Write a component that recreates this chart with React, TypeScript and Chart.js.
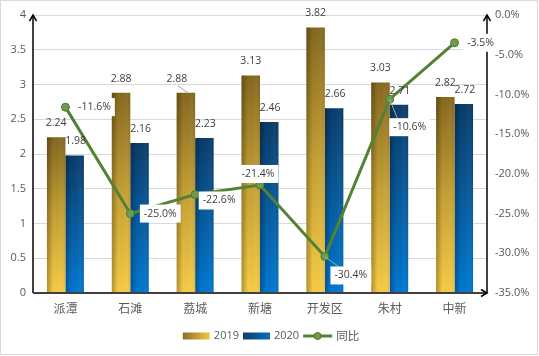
import React, { useEffect, useRef } from 'react';
import { Chart, registerables } from 'chart.js';

Chart.register(...registerables);

// ---- data ----
const categories = ['派潭', '石滩', '荔城', '新塘', '开发区', '朱村', '中新'];
const values2019 = [2.24, 2.88, 2.88, 3.13, 3.82, 3.03, 2.82];
const values2020 = [1.98, 2.16, 2.23, 2.46, 2.66, 2.71, 2.72];
const yoyPct = [-11.6, -25.0, -22.6, -21.4, -30.4, -10.6, -3.5];
const seriesNames = ['2019', '2020', '同比'];

// ---- label placement (styling) ----
const lineLabelOffsets: [number, number, boolean][] = [
  [29, 0, false],
  [30, 0, false],
  [24, 6, false],
  [-2, -11, false],
  [26, 19, true],
  [20, 28, true],
  [26, 0, false],
];
const bar2019LabelNudge: Record<number, number> = { 2: -9 };

const FONT = "'Open Sans', 'Noto Sans CJK SC', sans-serif";
const CJK = "'Noto Sans CJK SC', sans-serif";
const TICK = '#595959';
const LABEL = '#404040';
const GREEN = '#548235';

function barGradient(ctx: any, top: string, mid: string, bottom: string) {
  const chart = ctx.chart;
  if (!chart.chartArea || ctx.type !== 'data') return mid;
  const ys = chart.scales.y;
  const t = ys.getPixelForValue(ctx.raw);
  const b = ys.getPixelForValue(0);
  const g = chart.ctx.createLinearGradient(0, t, 0, b);
  g.addColorStop(0, top);
  g.addColorStop(0.5, mid);
  g.addColorStop(1, bottom);
  return g;
}

function arrowUp(c: CanvasRenderingContext2D, x: number, y: number) {
  c.beginPath();
  c.moveTo(x - 3.5, y + 6);
  c.lineTo(x, y);
  c.lineTo(x + 3.5, y + 6);
  c.stroke();
}

const decorPlugin = {
  id: 'decor',
  afterDatasetDraw(chart: any, args: any) {
    const meta = args.meta;
    if (meta.type !== 'bar') return;
    const c: CanvasRenderingContext2D = chart.ctx;
    c.save();
    meta.data.forEach((bar: any) => {
      const { x, y, base, width } = bar.getProps(['x', 'y', 'base', 'width'], true);
      const l = x - width / 2;
      const g = c.createLinearGradient(l, 0, l + width, 0);
      g.addColorStop(0, 'rgba(0,0,0,0.28)');
      g.addColorStop(0.35, 'rgba(0,0,0,0)');
      g.addColorStop(0.8, 'rgba(255,255,255,0.04)');
      g.addColorStop(1, 'rgba(0,0,0,0.06)');
      c.fillStyle = g;
      c.fillRect(l, y, width, base - y);
    });
    c.restore();
  },
  afterDraw(chart: any) {
    const c: CanvasRenderingContext2D = chart.ctx;
    const { left, right, top, bottom } = chart.chartArea;
    c.save();
    // outer border
    c.strokeStyle = '#D9D9D9';
    c.lineWidth = 1;
    c.strokeRect(0.5, 0.5, chart.width - 2, chart.height - 2);

    // axes
    c.strokeStyle = '#000000';
    c.lineWidth = 1.5;
    c.beginPath();
    c.moveTo(left, bottom);
    c.lineTo(left, top);
    c.stroke();
    arrowUp(c, left, top);
    c.beginPath();
    c.moveTo(right, bottom);
    c.lineTo(right, top);
    c.stroke();
    arrowUp(c, right, top);
    c.strokeStyle = '#404040';
    c.lineWidth = 2;
    c.beginPath();
    c.moveTo(left, bottom);
    c.lineTo(right, bottom);
    c.stroke();
    c.lineWidth = 1.5;
    c.strokeStyle = '#000';
    c.beginPath();
    c.moveTo(right - 6, bottom - 3.5);
    c.lineTo(right, bottom);
    c.lineTo(right - 6, bottom + 3.5);
    c.stroke();

    // bar labels
    c.font = `10.5px ${FONT}`;
    c.fillStyle = LABEL;
    c.textAlign = 'center';
    c.textBaseline = 'middle';
    const m2019 = chart.getDatasetMeta(1);
    const m2020 = chart.getDatasetMeta(2);
    m2019.data.forEach((bar: any, i: number) => {
      const nudge = bar2019LabelNudge[i] || 0;
      const lx = bar.x + nudge;
      const ly = bar.y - 14;
      if (nudge) {
        c.strokeStyle = '#A6A6A6';
        c.lineWidth = 1;
        c.beginPath();
        c.moveTo(lx + 1, ly + 7);
        c.lineTo(bar.x + 2, bar.y);
        c.stroke();
      }
      c.fillStyle = LABEL;
      c.fillText(values2019[i].toFixed(2), lx, ly);
    });
    m2020.data.forEach((bar: any, i: number) => {
      c.fillText(values2020[i].toFixed(2), bar.x + 1, bar.y - 14);
    });

    // line labels
    const mLine = chart.getDatasetMeta(0);
    mLine.data.forEach((pt: any, i: number) => {
      const [dx, dy, leader] = lineLabelOffsets[i];
      const txt = yoyPct[i].toFixed(1) + '%';
      const w = c.measureText(txt).width;
      const cx = pt.x + dx;
      const cy = pt.y + dy;
      if (leader) {
        c.strokeStyle = '#A6A6A6';
        c.lineWidth = 1;
        c.beginPath();
        c.moveTo(pt.x, pt.y);
        c.lineTo(cx - w / 2 + 4, cy - 9);
        c.stroke();
      }
      c.fillStyle = '#FFFFFF';
      c.fillRect(cx - w / 2 - 4, cy - 9, w + 8, 18);
      c.fillStyle = LABEL;
      c.fillText(txt, cx, cy);
    });

    // legend
    c.font = `11px ${FONT}`;
    c.textAlign = 'left';
    const boxW = 27;
    const ly = 336;
    const widths = seriesNames.map((n) => c.measureText(n).width);
    const gapBoxText = 4;
    const gapItems = 4;
    const total = widths.reduce((a, w) => a + boxW + gapBoxText + w, 0) + gapItems * 2;
    let x = (chart.width - total) / 2;
    seriesNames.forEach((name, i) => {
      if (i < 2) {
        const g = c.createLinearGradient(x, 0, x + boxW, 0);
        if (i === 0) {
          g.addColorStop(0, '#8C6E24');
          g.addColorStop(1, '#F4C944');
        } else {
          g.addColorStop(0, '#0B3E6C');
          g.addColorStop(1, '#0A6FC0');
        }
        c.fillStyle = g;
        c.fillRect(x, ly - 3.5, boxW, 7);
      } else {
        c.strokeStyle = GREEN;
        c.lineWidth = 3;
        c.beginPath();
        c.moveTo(x, ly);
        c.lineTo(x + boxW + 2, ly);
        c.stroke();
        c.fillStyle = '#6E9A4E';
        c.strokeStyle = '#4E7A30';
        c.lineWidth = 1;
        c.beginPath();
        c.arc(x + boxW / 2 + 1, ly, 3.5, 0, Math.PI * 2);
        c.fill();
        c.stroke();
        x += 2;
      }
      c.fillStyle = TICK;
      c.font = i === 2 ? `11.5px ${CJK}` : `11px ${FONT}`;
      c.fillText(name, x + boxW + gapBoxText, ly);
      x += boxW + gapBoxText + widths[i] + gapItems;
    });
    c.restore();
  },
};

export default function App() {
  const ref = useRef<HTMLCanvasElement>(null);
  useEffect(() => {
    document.body.style.margin = '0';
    const canvas = ref.current!;
    const chart = new Chart(canvas, {
      type: 'bar',
      data: {
        labels: categories,
        datasets: [
          {
            type: 'line',
            label: seriesNames[2],
            data: yoyPct,
            yAxisID: 'y1',
            order: 0,
            borderColor: GREEN,
            borderWidth: 3,
            pointRadius: 4,
            pointBackgroundColor: '#6E9A4E',
            pointBorderColor: '#4E7A30',
            pointBorderWidth: 1,
            tension: 0,
          } as any,
          {
            type: 'bar',
            label: seriesNames[0],
            data: values2019,
            yAxisID: 'y',
            order: 1,
            backgroundColor: (ctx: any) => barGradient(ctx, '#85681F', '#C4A034', '#F6CB45'),
            categoryPercentage: 0.57,
            barPercentage: 1,
          },
          {
            type: 'bar',
            label: seriesNames[1],
            data: values2020,
            yAxisID: 'y',
            order: 2,
            backgroundColor: (ctx: any) => barGradient(ctx, '#0A3C69', '#075A9C', '#0078D2'),
            categoryPercentage: 0.57,
            barPercentage: 1,
          },
        ],
      },
      options: {
        responsive: false,
        animation: false,
        devicePixelRatio: 1,
        layout: { padding: { top: 15, left: 0, right: 0, bottom: 0 } },
        plugins: { legend: { display: false }, tooltip: { enabled: false } },
        scales: {
          x: {
            grid: { display: false, drawTicks: false },
            border: { display: false },
            ticks: { color: TICK, font: { size: 12, family: CJK }, padding: 8 },
            afterFit: (s: any) => {
              s.height = 63;
            },
          },
          y: {
            position: 'left',
            min: 0,
            max: 4,
            grid: { color: '#D9D9D9', drawTicks: false },
            border: { display: false },
            ticks: {
              stepSize: 0.5,
              color: TICK,
              font: { size: 11, family: FONT },
              padding: 7,
              callback: (v: any) => String(Math.round(Number(v) * 10) / 10),
            },
            afterFit: (s: any) => {
              s.width = 33;
            },
          },
          y1: {
            position: 'right',
            min: -35,
            max: 0,
            grid: { display: false, drawTicks: false },
            border: { display: false },
            ticks: {
              stepSize: 5,
              color: TICK,
              font: { size: 11, family: FONT },
              padding: 8,
              callback: (v: any) => Number(v).toFixed(1) + '%',
            },
            afterFit: (s: any) => {
              s.width = 52;
            },
          },
        },
      },
      plugins: [decorPlugin],
    });
    return () => chart.destroy();
  }, []);
  return (
    <div style={{ position: 'absolute', left: 0, top: 0, width: 539, height: 356, background: '#fff' }}>
      <canvas ref={ref} width={539} height={356} />
    </div>
  );
}
